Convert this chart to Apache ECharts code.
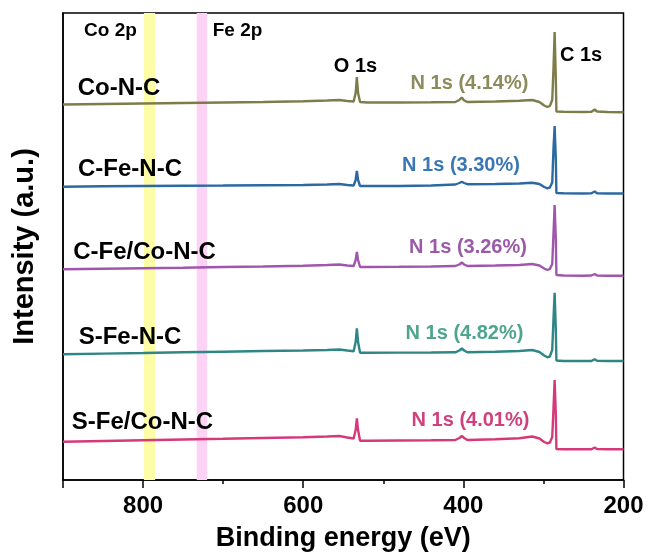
<!DOCTYPE html>
<html>
<head>
<meta charset="utf-8">
<script src="https://cdn.jsdelivr.net/npm/echarts@6/dist/echarts.min.js"></script>
<style>
  html, body { margin: 0; padding: 0; background: #fff; }
  #chart { width: 652px; height: 559px; }
</style>
</head>
<body>
<div id="chart"></div>
<script>
// XPS survey spectra, stacked with vertical offsets (arbitrary units)
const energy = [900, 850, 800, 750, 700, 650, 600, 570, 555, 545, 537, 534.5, 533, 531.5, 529,
  520, 480, 440, 410, 405, 402, 399, 395, 360, 330, 314, 305, 299, 295, 292, 289,
  287.5, 286, 284.5, 283.8, 275, 250, 240, 236, 233, 220, 200];

const coNC = [375.5, 376, 376.5, 377, 377.5, 378, 378.7, 379.5, 380, 379, 378.5, 387, 403, 387, 378,
  377.5, 377.5, 377.7, 378, 380, 382.5, 379.5, 378, 378.5, 379.2, 380, 378, 374.5, 373, 374, 380,
  410, 448, 400, 368.5, 368.2, 368, 368.2, 370.5, 368.5, 368, 367.7];

const cFeNC = [293.3, 293.7, 294, 294.3, 294.5, 294.8, 295, 295.5, 296, 295, 294.5, 300, 309, 300, 294,
  294, 294, 294.5, 295.5, 297, 298.3, 297, 295.8, 296, 296.5, 297.3, 296, 293, 291.7, 292.5, 297.5,
  330, 354, 320, 287, 286.7, 286.5, 286.7, 288.5, 286.7, 286.5, 286.5];

const cFeCoNC = [210.7, 211.2, 211.7, 212.2, 213, 213.5, 214.3, 215, 215.5, 214.5, 214, 220, 228, 220, 213,
  213, 213.2, 213.5, 214, 215.5, 217.5, 215.5, 214, 214.5, 215, 216, 214.5, 211.5, 210, 211, 216,
  245, 275, 240, 205, 204.5, 204.3, 204.5, 206, 204.5, 204.3, 204.3];

const sFeNC = [125.7, 126.4, 127, 127.7, 128.3, 129, 129.5, 130, 130.5, 129.5, 128.8, 138, 151.7, 138, 127.3,
  127.3, 127.4, 127.5, 127.7, 129.5, 131.7, 129.5, 127.7, 128.2, 129, 130, 128, 124.5, 122.7, 123.5, 130,
  160, 187.3, 150, 119.5, 119, 119, 119, 120.7, 119.2, 119, 119];

const sFeCoNC = [38.3, 39, 39.7, 40.5, 41.2, 42, 42.7, 43.5, 44, 42.5, 41.5, 50, 61.7, 50, 39.3,
  39.3, 39.5, 39.7, 40, 42, 44, 42, 40, 40.7, 41.7, 43.5, 41.5, 38, 36.7, 37.5, 43,
  70, 100, 65, 31, 30.7, 30.7, 30.7, 32.5, 31, 30.7, 30.7];

const sampleNames = ['Co-N-C', 'C-Fe-N-C', 'C-Fe/Co-N-C', 'S-Fe-N-C', 'S-Fe/Co-N-C'];
const nContent = ['4.14%', '3.30%', '3.26%', '4.82%', '4.01%'];
const spectra = [coNC, cFeNC, cFeCoNC, sFeNC, sFeCoNC];

// Binding-energy tick labels shown under the axis
const energyTickLabels = [800, 600, 400, 200];

// Highlighted binding-energy windows (eV)
const coBand = [785, 799];
const feBand = [720, 733];

const lineColors = ['#7d7d4b', '#2b69a3', '#a156ae', '#2f8686', '#d6397a'];
const nLabelColors = ['#8b8b5c', '#3a77b5', '#9a5aa8', '#4ea58c', '#d0407c'];

const FONT = 'Liberation Sans, Arial, sans-serif';

const series = spectra.map((vals, i) => ({
  name: sampleNames[i],
  type: 'line',
  data: energy.map((e, k) => [e, vals[k]]),
  showSymbol: false,
  symbol: 'none',
  lineStyle: { color: lineColors[i], width: 2.4 },
  z: 3,
  animation: false
}));

series.unshift({
  type: 'line',
  data: [],
  z: 1,
  silent: true,
  markArea: {
    silent: true,
    data: [
      [{ xAxis: coBand[0], itemStyle: { color: '#fdfda8' } }, { xAxis: coBand[1] }],
      [{ xAxis: feBand[0], itemStyle: { color: '#fcd3f5' } }, { xAxis: feBand[1] }]
    ]
  }
});

// Text annotations: sample names, N 1s contents, element markers
const texts = [];
const namePos = [[119, 88], [130, 169], [144.5, 252], [130, 337], [142.5, 422]];
const nPos = [[469.5, 83.5], [461, 165], [468, 247], [464.5, 333.5], [470.5, 420]];
sampleNames.forEach((n, i) => {
  texts.push({ x: namePos[i][0], y: namePos[i][1], text: n, size: 24, color: '#000' });
  texts.push({ x: nPos[i][0], y: nPos[i][1], text: 'N 1s (' + nContent[i] + ')', size: 20, color: nLabelColors[i] });
});
texts.push({ x: 110.5, y: 30.5, text: 'Co 2p', size: 19, color: '#000' });
texts.push({ x: 237.5, y: 30.5, text: 'Fe 2p', size: 19, color: '#000' });
texts.push({ x: 355.5, y: 66.5, text: 'O 1s', size: 20, color: '#000' });
texts.push({ x: 581, y: 55, text: 'C 1s', size: 20, color: '#000' });

const graphic = texts.map(t => ({
  type: 'text',
  x: t.x,
  y: t.y,
  z: 10,
  style: {
    text: t.text,
    fill: t.color,
    font: 'bold ' + t.size + 'px ' + FONT,
    textAlign: 'center',
    textVerticalAlign: 'middle'
  }
}));

const chart = echarts.init(document.getElementById('chart'), null, { renderer: 'canvas' });
chart.setOption({
  animation: false,
  backgroundColor: '#fff',
  grid: {
    left: 63, right: 28.5, top: 13, bottom: 79,
    show: true, borderColor: '#000', borderWidth: 1.5, backgroundColor: 'transparent'
  },
  xAxis: [
    {
      // short ticks every 100 eV, labels every 200 eV
      type: 'value',
      min: 200, max: 900, interval: 100,
      inverse: true,
      axisLine: { show: true, onZero: false, lineStyle: { color: '#000', width: 1.5 } },
      axisTick: { show: true, length: 4, lineStyle: { color: '#000', width: 1.5 } },
      splitLine: { show: false },
      axisLabel: {
        color: '#000', fontSize: 24, fontWeight: 'bold', fontFamily: FONT, margin: 14,
        formatter: v => (energyTickLabels.indexOf(v) >= 0 ? String(v) : '')
      },
      name: 'Binding energy (eV)',
      nameLocation: 'middle',
      nameGap: 45,
      nameTextStyle: { color: '#000', fontSize: 27, fontWeight: 'bold', fontFamily: FONT }
    },
    {
      // long ticks at the labelled energies
      type: 'value',
      min: 200, max: 900, interval: 200,
      inverse: true,
      position: 'bottom',
      axisLine: { show: false, onZero: false },
      axisTick: { show: true, length: 8, lineStyle: { color: '#000', width: 1.5 } },
      splitLine: { show: false },
      axisLabel: { show: false }
    }
  ],
  yAxis: {
    type: 'value',
    min: 0, max: 467,
    axisLine: { show: true, lineStyle: { color: '#000', width: 1.5 } },
    axisTick: { show: false },
    axisLabel: { show: false },
    splitLine: { show: false },
    name: 'Intensity (a.u.)',
    nameLocation: 'middle',
    nameGap: 24,
    nameTextStyle: { color: '#000', fontSize: 29, fontWeight: 'bold', fontFamily: FONT }
  },
  series: series,
  graphic: graphic
});
</script>
</body>
</html>
